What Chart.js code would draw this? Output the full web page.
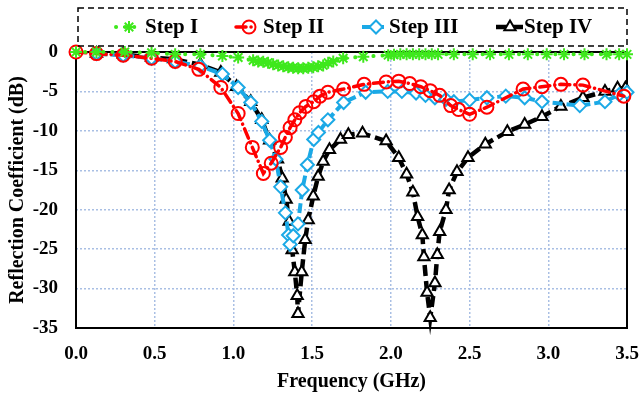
<!DOCTYPE html>
<html>
<head>
<meta charset="utf-8">
<script src="https://cdn.jsdelivr.net/npm/chart.js@4.4.1/dist/chart.umd.min.js"></script>
<style>
  html, body { margin: 0; padding: 0; background: #fff; }
  #wrap { width: 639px; height: 394px; }
</style>
</head>
<body>
<div id="wrap"><canvas id="s11Chart" width="639" height="394"></canvas></div>
<script>
// Step I - green asterisks
const stepOneFreq = [0, 0.13, 0.31, 0.48, 0.63, 0.79, 0.93, 1.03, 1.125, 1.157, 1.189, 1.22, 1.252, 1.284, 1.316, 1.348, 1.379, 1.411, 1.443, 1.475, 1.507, 1.538, 1.57, 1.602, 1.634, 1.697, 1.825, 1.983, 2.02, 2.06, 2.1, 2.14, 2.18, 2.22, 2.26, 2.3, 2.4, 2.52, 2.63, 2.75, 2.87, 2.99, 3.1, 3.23, 3.37, 3.45, 3.5];
const stepOneS11 = [0, 0, 0, -0.1, -0.3, -0.3, -0.5, -0.7, -1.05, -1.2, -1.25, -1.37, -1.56, -1.7, -1.82, -1.94, -2.0, -2.07, -2.07, -2.0, -1.94, -1.82, -1.7, -1.37, -1.2, -0.8, -0.6, -0.4, -0.35, -0.3, -0.3, -0.3, -0.3, -0.3, -0.3, -0.3, -0.3, -0.3, -0.3, -0.3, -0.3, -0.3, -0.3, -0.3, -0.3, -0.3, -0.3];

// Step II - red circles
const stepTwoFreq = [0, 0.13, 0.3, 0.48, 0.63, 0.78, 0.92, 1.03, 1.12, 1.19, 1.24, 1.3, 1.33, 1.36, 1.39, 1.42, 1.46, 1.51, 1.55, 1.6, 1.7, 1.83, 1.97, 2.05, 2.12, 2.19, 2.25, 2.31, 2.38, 2.43, 2.5, 2.61, 2.84, 2.96, 3.08, 3.22, 3.48];
const stepTwoS11 = [0, -0.2, -0.4, -0.8, -1.2, -2.2, -4.5, -7.8, -12.1, -15.4, -14.1, -12.1, -10.8, -9.6, -8.6, -7.7, -6.9, -6.3, -5.6, -5.1, -4.7, -4.1, -3.8, -3.7, -4.0, -4.4, -4.9, -5.5, -6.8, -7.3, -7.9, -7.0, -4.7, -4.4, -4.1, -4.2, -5.6];

// Step III - blue diamonds
const stepThreeFreq = [0.13, 0.3, 0.48, 0.63, 0.79, 0.93, 1.03, 1.11, 1.18, 1.23, 1.27, 1.3, 1.33, 1.35, 1.36, 1.38, 1.41, 1.437, 1.47, 1.51, 1.54, 1.6, 1.7, 1.84, 1.98, 2.07, 2.16, 2.22, 2.28, 2.35, 2.4, 2.5, 2.61, 2.73, 2.85, 2.96, 3.2, 3.36, 3.45, 3.5];
const stepThreeS11 = [-0.2, -0.4, -0.8, -1.2, -1.8, -2.8, -4.5, -6.4, -8.8, -11.2, -13.6, -17.1, -20.4, -23.2, -24.4, -23.3, -21.8, -17.5, -14.3, -11.1, -10.2, -8.6, -6.4, -5.1, -5.0, -5.0, -5.2, -5.5, -5.8, -6.0, -6.3, -6.1, -5.8, -5.6, -5.8, -6.3, -6.8, -6.3, -5.4, -5.1];

// Step IV - black triangles
const stepFourFreq = [0.13, 0.3, 0.48, 0.62, 0.79, 0.92, 1.02, 1.11, 1.18, 1.23, 1.28, 1.31, 1.335, 1.354, 1.373, 1.39, 1.405, 1.41, 1.434, 1.456, 1.475, 1.507, 1.538, 1.57, 1.61, 1.68, 1.73, 1.82, 1.97, 2.05, 2.1, 2.14, 2.17, 2.2, 2.21, 2.23, 2.25, 2.28, 2.295, 2.31, 2.35, 2.37, 2.42, 2.49, 2.6, 2.74, 2.85, 2.96, 3.08, 3.22, 3.36, 3.44, 3.49];
const stepFourS11 = [-0.2, -0.3, -0.7, -0.9, -1.6, -2.6, -4.4, -6.3, -8.6, -11.2, -13.6, -16.0, -18.7, -21.5, -25.1, -27.9, -30.9, -33.2, -27.9, -23.8, -21.3, -18.3, -15.8, -13.9, -12.4, -11.1, -10.5, -10.3, -11.3, -13.4, -15.5, -17.8, -20.9, -23.2, -26.0, -30.5, -33.7, -29.3, -25.7, -22.8, -20.0, -17.5, -15.2, -13.4, -11.7, -10.1, -9.2, -8.2, -6.9, -5.8, -5.0, -4.6, -4.6];

const seriesNames = ['Step I', 'Step II', 'Step III', 'Step IV'];
const xTicks = [0, 0.5, 1.0, 1.5, 2.0, 2.5, 3.0, 3.5];
const yTicks = [0, -5, -10, -15, -20, -25, -30, -35];

const SERIF = "'Liberation Serif', 'Times New Roman', serif";

function toPoints(freq, vals) {
    return freq.map((f, i) => ({ x: f, y: vals[i] }));
}

const datasets = [
    {
        label: seriesNames[0],
        data: toPoints(stepOneFreq, stepOneS11),
        borderColor: '#3ee81c',
        backgroundColor: 'rgba(0,0,0,0)',
        borderWidth: 4,
        borderDash: [0.1, 9],
        borderCapStyle: 'round',
        pointStyle: 'star',
        pointRadius: 6,
        pointBorderWidth: 2,
        pointBorderColor: '#3ee81c'
    },
    {
        label: seriesNames[1],
        data: toPoints(stepTwoFreq, stepTwoS11),
        borderColor: '#ff0000',
        backgroundColor: 'rgba(0,0,0,0)',
        borderWidth: 3.5,
        borderDash: [10, 5, 0.1, 5],
        borderCapStyle: 'round',
        pointStyle: 'circle',
        pointRadius: 6.5,
        pointBorderWidth: 2,
        pointBorderColor: '#ff0000',
        pointBackgroundColor: 'rgba(255,255,255,0)'
    },
    {
        label: seriesNames[2],
        data: toPoints(stepThreeFreq, stepThreeS11),
        borderColor: '#1ba9e6',
        backgroundColor: 'rgba(0,0,0,0)',
        borderWidth: 4,
        borderDash: [10, 4],
        pointStyle: 'rectRot',
        pointRadius: 6.5,
        pointBorderWidth: 2,
        pointBorderColor: '#1ba9e6',
        pointBackgroundColor: '#ffffff'
    },
    {
        label: seriesNames[3],
        data: toPoints(stepFourFreq, stepFourS11),
        borderColor: '#000000',
        backgroundColor: 'rgba(0,0,0,0)',
        borderWidth: 4.5,
        borderDash: [11, 5],
        pointStyle: 'triangle',
        pointRadius: 6.5,
        pointBorderWidth: 2,
        pointBorderColor: '#000000',
        pointBackgroundColor: '#ffffff'
    }
];

// box around the plot area
const frameBox = {
    id: 'frameBox',
    beforeDatasetsDraw(chart) {
        const { ctx, chartArea: a } = chart;
        ctx.save();
        ctx.strokeStyle = '#000';
        ctx.lineWidth = 2;
        ctx.strokeRect(a.left, a.top, a.right - a.left, a.bottom - a.top);
        ctx.restore();
    }
};

// legend with line + marker inside a dashed box
const boxLegend = {
    id: 'boxLegend',
    afterDraw(chart) {
        const ctx = chart.ctx;
        ctx.save();
        ctx.strokeStyle = '#000';
        ctx.lineWidth = 1.5;
        ctx.setLineDash([6, 4]);
        ctx.strokeRect(78, 8, 549, 38);

        const items = [
            { x1: 116, x2: 141, mx: 129, tx: 145 },
            { x1: 236, x2: 256, mx: 249, tx: 263 },
            { x1: 362, x2: 384, mx: 376, tx: 389 },
            { x1: 496, x2: 523, mx: 510, tx: 524 }
        ];
        const y = 27;
        ctx.font = 'bold 21px ' + SERIF;
        ctx.textBaseline = 'middle';
        items.forEach((it, i) => {
            const ds = chart.data.datasets[i];
            ctx.setLineDash(ds.borderDash);
            ctx.lineCap = ds.borderCapStyle || 'butt';
            ctx.strokeStyle = ds.borderColor;
            ctx.lineWidth = ds.borderWidth;
            ctx.beginPath();
            ctx.moveTo(it.x1, y);
            ctx.lineTo(it.x2, y);
            ctx.stroke();
            ctx.setLineDash([]);
            ctx.lineCap = 'butt';
            ctx.strokeStyle = ds.pointBorderColor;
            ctx.fillStyle = ds.pointBackgroundColor || 'rgba(0,0,0,0)';
            ctx.lineWidth = ds.pointBorderWidth;
            Chart.helpers.drawPoint(ctx, {
                pointStyle: ds.pointStyle,
                radius: ds.pointRadius,
                borderWidth: ds.pointBorderWidth,
                rotation: 0
            }, it.mx, y);
            ctx.fillStyle = '#000';
            ctx.fillText(ds.label, it.tx, y + 1);
        });
        ctx.restore();
    }
};

const ctx = document.getElementById('s11Chart').getContext('2d');
const s11Chart = new Chart(ctx, {
    type: 'line',
    data: { datasets: datasets },
    options: {
        responsive: false,
        animation: false,
        clip: false,
        layout: { padding: { top: 52, right: 12, left: 0, bottom: 0 } },
        plugins: {
            legend: { display: false },
            tooltip: { enabled: false }
        },
        scales: {
            x: {
                type: 'linear',
                min: 0,
                max: 3.5,
                afterFit: s => { s.height = 66; s.paddingRight = 0; s.paddingLeft = 0; },
                afterBuildTicks: s => { s.ticks = xTicks.map(v => ({ value: v })); },
                ticks: {
                    padding: 15,
                    color: '#000',
                    font: { family: SERIF, size: 19, weight: 'bold' },
                    callback: v => v.toFixed(1)
                },
                grid: {
                    color: '#a9bfe4',
                    lineWidth: 1.5,
                    drawTicks: false
                },
                border: { display: false, dash: [2, 2] },
                title: {
                    display: true,
                    text: 'Frequency (GHz)',
                    color: '#000',
                    font: { family: SERIF, size: 20, weight: 'bold' },
                    padding: { top: 0, bottom: 0 }
                }
            },
            y: {
                type: 'linear',
                min: -35,
                max: 0,
                afterFit: s => { s.width = 76; },
                afterBuildTicks: s => { s.ticks = yTicks.map(v => ({ value: v })); },
                ticks: {
                    padding: 18,
                    color: '#000',
                    font: { family: SERIF, size: 19, weight: 'bold' },
                    callback: v => String(v)
                },
                grid: {
                    color: '#a9bfe4',
                    lineWidth: 1.5,
                    drawTicks: false
                },
                border: { display: false, dash: [2, 2] },
                title: {
                    display: true,
                    text: 'Reflection Coefficient (dB)',
                    color: '#000',
                    font: { family: SERIF, size: 20, weight: 'bold' },
                    padding: { top: 6, bottom: 0 }
                }
            }
        }
    },
    plugins: [frameBox, boxLegend]
});
</script>
</body>
</html>
